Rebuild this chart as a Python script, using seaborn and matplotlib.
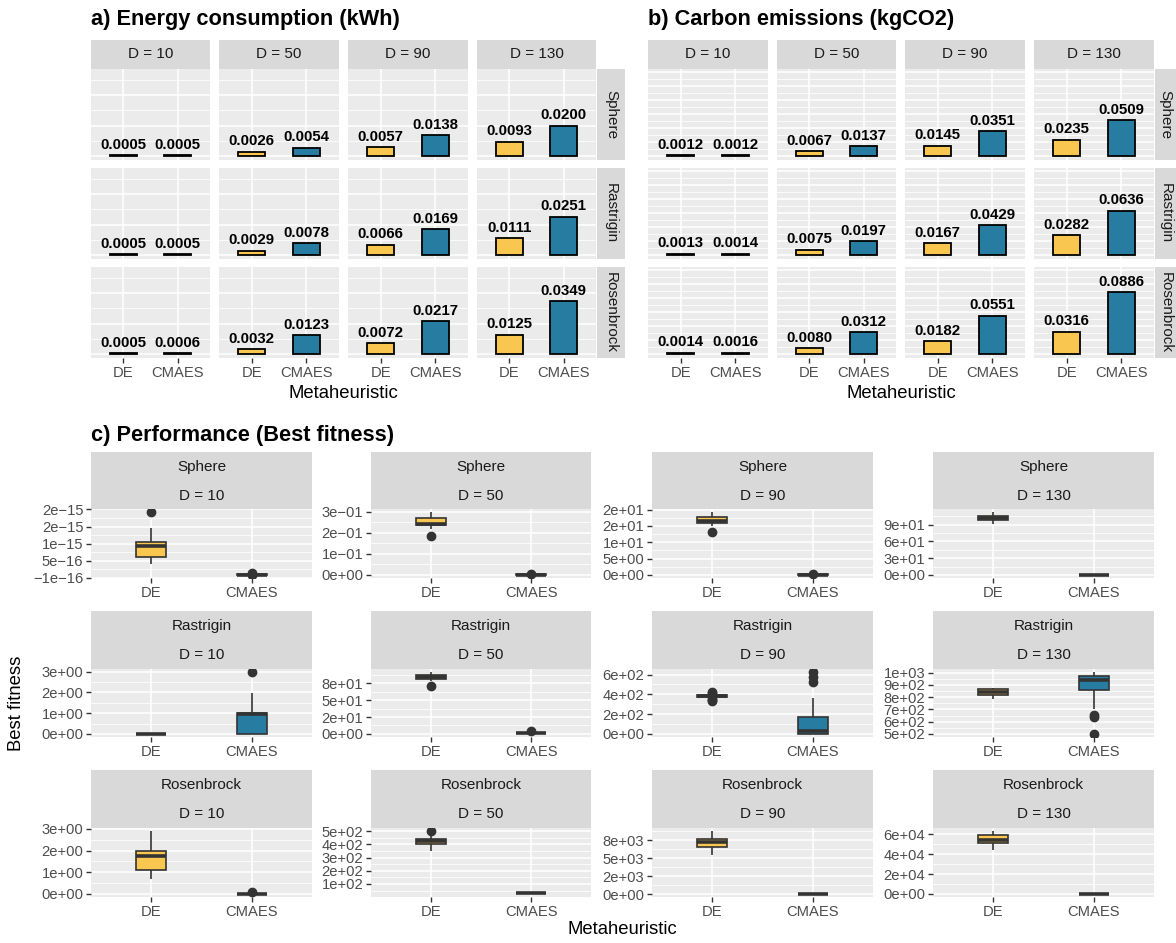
import numpy as np
import pandas as pd
import matplotlib
matplotlib.use("Agg")
import matplotlib.pyplot as plt
import seaborn as sns
from matplotlib.ticker import FixedLocator, FixedFormatter, NullFormatter

plt.rcParams['font.family'] = ['Liberation Sans', 'DejaVu Sans']

# ---------------- data ----------------
ALGOS = ["DE", "CMAES"]
DIMS = [10, 50, 90, 130]
FUNCS = ["Sphere", "Rastrigin", "Rosenbrock"]
PALETTE = {"DE": "#F9C74F", "CMAES": "#277DA1"}

# rows = functions (Sphere, Rastrigin, Rosenbrock), cols = D (10, 50, 90, 130)
energy_de = [[0.0005, 0.0026, 0.0057, 0.0093],
             [0.0005, 0.0029, 0.0066, 0.0111],
             [0.0005, 0.0032, 0.0072, 0.0125]]
energy_cmaes = [[0.0005, 0.0054, 0.0138, 0.0200],
                [0.0005, 0.0078, 0.0169, 0.0251],
                [0.0006, 0.0123, 0.0217, 0.0349]]
carbon_de = [[0.0012, 0.0067, 0.0145, 0.0235],
             [0.0013, 0.0075, 0.0167, 0.0282],
             [0.0014, 0.0080, 0.0182, 0.0316]]
carbon_cmaes = [[0.0012, 0.0137, 0.0351, 0.0509],
                [0.0014, 0.0197, 0.0429, 0.0636],
                [0.0016, 0.0312, 0.0551, 0.0886]]

sphere_de = [
    [0.40e-15, 0.55e-15, 0.62e-15, 0.80e-15, 0.92e-15, 0.98e-15, 1.04e-15, 1.46e-15, 1.92e-15],
    [0.185, 0.216, 0.236, 0.240, 0.243, 0.255, 0.267, 0.280, 0.297],
    [13.0, 15.0, 15.9, 16.2, 16.5, 17.2, 17.7, 18.4, 19.2],
    [90.9, 95.0, 98.7, 100.5, 102.4, 104.5, 106.5, 109.5, 112.7],
]
sphere_cmaes = [
    [0.90e-16, 0.95e-16, 1.0e-16, 1.0e-16, 1.0e-16, 1.0e-16, 1.05e-16, 1.1e-16, 1.3e-16],
    [0.0, 0.0005, 0.001, 0.001, 0.0015, 0.002, 0.002, 0.003, 0.004],
    [0.0, 0.02, 0.05, 0.06, 0.08, 0.10, 0.12, 0.15, 0.35],
    [0.0, 0.05, 0.10, 0.12, 0.15, 0.18, 0.20, 0.25, 0.30],
]
rastrigin_de = [
    [0.0, 0.0, 0.0, 0.0, 0.0, 0.0, 0.0, 0.0, 0.0],
    [71.0, 78.5, 81.0, 83.0, 84.3, 86.0, 87.0, 89.5, 91.7],
    [330, 342, 352, 362, 378, 380, 382, 384, 385, 386, 387, 389, 390, 395, 400, 412, 422],
    [784, 800, 818, 832, 844, 852, 863, 867, 871],
]
rastrigin_cmaes = [
    [0.0, 0.0, 0.0, 0.5, 0.95, 0.99, 1.02, 1.99, 2.98],
    [0.0, 0.5, 0.99, 1.0, 1.0, 1.5, 1.99, 2.0, 4.0],
    [0, 0, 0, 0, 0, 0, 5, 10, 15, 22, 29, 50, 80, 110, 140, 167, 250, 365, 520, 580, 625],
    [500, 640, 655, 707, 856, 880, 900, 920, 937, 950, 960, 965, 970, 980, 990, 1000, 1005],
]
rosenbrock_de = [
    [0.70, 0.95, 1.12, 1.50, 1.75, 1.85, 2.00, 2.40, 2.90],
    [350, 380, 402, 415, 423, 430, 438, 467, 500],
    [5420, 6000, 6490, 7000, 7200, 7400, 7600, 8200, 8750],
    [44000, 48000, 51700, 53000, 54000, 56500, 59000, 61500, 63300],
]
rosenbrock_cmaes = [
    [0.0, 0.0, 0.0, 0.0, 0.0, 0.001, 0.002, 0.003, 0.07],
    [25, 27, 28, 29, 30, 31, 32, 33, 35],
    [60, 80, 90, 95, 100, 105, 110, 120, 140],
    [50, 80, 100, 110, 120, 130, 150, 180, 200],
]

# y tick values and labels of the fitness panels
sphere_ticks = [[0, 5e-16, 1e-15, 1.5e-15, 2e-15], [0, 0.1, 0.2, 0.3],
                [0, 5, 10, 15, 20], [0, 30, 60, 90]]
sphere_labels = [["\u22121e\u221216", "5e\u221216", "1e\u221215", "2e\u221215", "2e\u221215"],
                 ["0e+00", "1e\u221201", "2e\u221201", "3e\u221201"],
                 ["0e+00", "5e+00", "1e+01", "2e+01", "2e+01"],
                 ["0e+00", "3e+01", "6e+01", "9e+01"]]
rastrigin_ticks = [[0, 1, 2, 3], [0, 25, 50, 75], [0, 200, 400, 600],
                   [500, 600, 700, 800, 900, 1000]]
rastrigin_labels = [["0e+00", "1e+00", "2e+00", "3e+00"],
                    ["0e+00", "2e+01", "5e+01", "8e+01"],
                    ["0e+00", "2e+02", "4e+02", "6e+02"],
                    ["5e+02", "6e+02", "7e+02", "8e+02", "9e+02", "1e+03"]]
rosenbrock_ticks = [[0, 1, 2, 3], [100, 200, 300, 400, 500], [0, 2500, 5000, 7500],
                    [0, 20000, 40000, 60000]]
rosenbrock_labels = [["0e+00", "1e+00", "2e+00", "3e+00"],
                     ["1e+02", "2e+02", "3e+02", "4e+02", "5e+02"],
                     ["0e+00", "2e+03", "5e+03", "8e+03"],
                     ["0e+00", "2e+04", "4e+04", "6e+04"]]

# ---------------- layout ----------------
W, H = 1176, 943
fig = plt.figure(figsize=(W / 100, H / 100), dpi=100)
fig.patch.set_facecolor("white")

STRIP_BG = "#D9D9D9"
PANEL_BG = "#EBEBEB"
TICK_COL = "#4D4D4D"
STRIP_TXT = "#1A1A1A"
STRIP_FS = 11
TICK_FS = 10.6
AXTITLE_FS = 13.3
TITLE_FS = 15.7
LABEL_FS = 10.8


def add_ax(x0, y0, x1, y1):
    return fig.add_axes([x0 / W, 1 - y1 / H, (x1 - x0) / W, (y1 - y0) / H])


def strip_ax(x0, y0, x1, y1):
    ax = add_ax(x0, y0, x1, y1)
    ax.set_facecolor(STRIP_BG)
    ax.set_xticks([])
    ax.set_yticks([])
    for s in ax.spines.values():
        s.set_visible(False)
    return ax


def style_panel(ax):
    ax.set_facecolor(PANEL_BG)
    for s in ax.spines.values():
        s.set_visible(False)
    ax.set_axisbelow(True)
    ax.grid(which="major", color="white", linewidth=1.1)
    ax.grid(which="minor", axis="y", color="white", linewidth=0.55)
    ax.tick_params(which="minor", length=0)
    ax.tick_params(which="major", length=3.5, width=1.0, color="#333333",
                   labelcolor=TICK_COL, labelsize=TICK_FS, pad=2)
    ax.set_xlabel("")
    ax.set_ylabel("")


# ---------------- top bar panels ----------------
top_rows = [(69, 160), (168, 259), (267, 358)]
sections = [
    dict(title="a) Energy consumption (kWh)", tx=91,
         cols=[(91, 210), (219, 339), (348, 468), (477, 596)], rstrip=(597, 625),
         de=energy_de, cm=energy_cmaes, ylim=(-0.0027, 0.0573),
         major=[0, 0.02, 0.04], minor=[0.01, 0.03, 0.05]),
    dict(title="b) Carbon emissions (kgCO2)", tx=648,
         cols=[(648, 768), (777, 896), (905, 1025), (1034, 1154)], rstrip=(1155, 1176),
         de=carbon_de, cm=carbon_cmaes, ylim=(-0.006, 0.125),
         major=[0, 0.02, 0.04, 0.06, 0.08, 0.10, 0.12],
         minor=[0.01, 0.03, 0.05, 0.07, 0.09, 0.11]),
]

for sec in sections:
    fig.text(sec["tx"] / W, 1 - 19 / H, sec["title"], fontsize=TITLE_FS,
             fontweight="bold", ha="left", va="center")
    for c, (x0, x1) in enumerate(sec["cols"]):
        sa = strip_ax(x0, 40, x1, 69)
        sa.text(0.5, 0.5, f"D = {DIMS[c]}", ha="center", va="center",
                fontsize=STRIP_FS, color=STRIP_TXT, transform=sa.transAxes)
    for r, (y0, y1) in enumerate(top_rows):
        rs = strip_ax(sec["rstrip"][0], y0, sec["rstrip"][1], y1)
        rs.text(0.5, 0.5, FUNCS[r], ha="center", va="center", rotation=270,
                fontsize=STRIP_FS, color=STRIP_TXT, transform=rs.transAxes)
        for c, (x0, x1) in enumerate(sec["cols"]):
            ax = add_ax(x0, y0, x1, y1)
            vals = [sec["de"][r][c], sec["cm"][r][c]]
            df = pd.DataFrame({"alg": ALGOS, "val": vals})
            sns.barplot(data=df, x="alg", y="val", hue="alg", order=ALGOS,
                        hue_order=ALGOS, palette=PALETTE, saturation=1,
                        width=0.5, edgecolor="black", linewidth=1.3,
                        errorbar=None, legend=False, ax=ax)
            for i, v in enumerate(vals):
                ax.annotate(f"{v:.4f}", (i, v), xytext=(0, 2.5),
                            textcoords="offset points", ha="center", va="bottom",
                            fontsize=LABEL_FS, fontweight="bold", color="black")
            style_panel(ax)
            ax.set_xlim(-0.6, 1.6)
            ax.set_ylim(*sec["ylim"])
            ax.yaxis.set_major_locator(FixedLocator(sec["major"]))
            ax.yaxis.set_minor_locator(FixedLocator(sec["minor"]))
            ax.tick_params(axis="y", which="both", length=0, labelleft=False)
            if r < 2:
                ax.tick_params(axis="x", length=0, labelbottom=False)
    xm = (sec["cols"][0][0] + sec["cols"][-1][1]) / 2
    fig.text(xm / W, 1 - 393 / H, "Metaheuristic", fontsize=AXTITLE_FS,
             ha="center", va="center")

# ---------------- fitness boxplots ----------------
fig.text(91 / W, 1 - 435 / H, "c) Performance (Best fitness)", fontsize=TITLE_FS,
         fontweight="bold", ha="left", va="center")

c_cols = [(91, 312), (371, 591), (652, 873), (933, 1154)]
c_rows = [(452, 509, 578), (611, 669, 737), (770, 828, 897)]
fit_de = [sphere_de, rastrigin_de, rosenbrock_de]
fit_cm = [sphere_cmaes, rastrigin_cmaes, rosenbrock_cmaes]
fit_ticks = [sphere_ticks, rastrigin_ticks, rosenbrock_ticks]
fit_labels = [sphere_labels, rastrigin_labels, rosenbrock_labels]

for r, (sy0, py0, py1) in enumerate(c_rows):
    for c, (x0, x1) in enumerate(c_cols):
        sa = strip_ax(x0, sy0, x1, py0)
        hh = py0 - sy0
        sa.text(0.5, 1 - 15 / hh, FUNCS[r], ha="center", va="center",
                fontsize=STRIP_FS, color=STRIP_TXT, transform=sa.transAxes)
        sa.text(0.5, 1 - 44 / hh, f"D = {DIMS[c]}", ha="center", va="center",
                fontsize=STRIP_FS, color=STRIP_TXT, transform=sa.transAxes)

        ax = add_ax(x0, py0, x1, py1)
        de_vals = fit_de[r][c]
        cm_vals = fit_cm[r][c]
        df = pd.DataFrame({"alg": ["DE"] * len(de_vals) + ["CMAES"] * len(cm_vals),
                           "val": list(de_vals) + list(cm_vals)})
        sns.boxplot(data=df, x="alg", y="val", hue="alg", order=ALGOS,
                    hue_order=ALGOS, palette=PALETTE, saturation=1, width=0.3,
                    linecolor="#333333", linewidth=1.2, showcaps=False,
                    flierprops=dict(marker="o", markerfacecolor="#333333",
                                    markeredgecolor="#333333", markersize=6),
                    medianprops=dict(linewidth=2.6, color="#333333"),
                    legend=False, ax=ax)
        style_panel(ax)
        ax.set_xlim(-0.6, 1.6)
        ax.relim()
        ax.autoscale(axis="y")
        ticks = np.asarray(fit_ticks[r][c], float)
        step = ticks[1] - ticks[0]
        minors = np.concatenate([[ticks[0] - step / 2],
                                 (ticks[:-1] + ticks[1:]) / 2,
                                 [ticks[-1] + step / 2]])
        ylo, yhi = ax.get_ylim()
        ax.yaxis.set_major_locator(FixedLocator(list(ticks)))
        ax.yaxis.set_major_formatter(FixedFormatter(fit_labels[r][c]))
        ax.yaxis.set_minor_locator(FixedLocator(list(minors)))
        ax.set_ylim(ylo, yhi)

fig.text(17 / W, 1 - 703 / H, "Best fitness", fontsize=AXTITLE_FS, rotation=90,
         ha="center", va="center")
fig.text(622 / W, 1 - 930 / H, "Metaheuristic", fontsize=AXTITLE_FS,
         ha="center", va="center")

fig.savefig("out.png", dpi=100, facecolor="white")
